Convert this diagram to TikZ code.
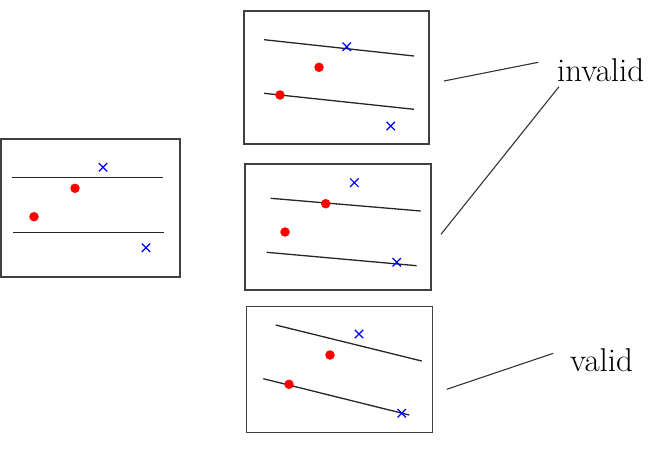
\documentclass[tikz,border=0pt]{standalone}
\begin{document}
\begin{tikzpicture}[x=1pt,y=-1pt,
  panel/.style={draw=black!75,line width=1.1pt},
  sep/.style={draw=black!85,line width=1.3pt},
  link/.style={draw=black!80,line width=1.1pt},
  posdot/.style={circle,fill=red,inner sep=0pt,minimum size=9.5pt},
  negmark/.style={blue,line width=1.2pt},
  lab/.style={font=\fontsize{33}{40}\selectfont,inner sep=0pt,anchor=base west}]
\useasboundingbox (0,0) rectangle (663,449);
\tikzset{pic cross/.pic={\draw[negmark] (-4.2,-4.2)--(4.2,4.2) (-4.2,4.2)--(4.2,-4.2);}}
% panel A (left)
\draw[panel] (1,139) rectangle (180,277);
\draw[sep] (12,177.7) -- (163,177.7);
\draw[sep] (13,232.7) -- (164,232.7);
\node[posdot] (a1) at (75,188.3) {};
\node[posdot] (a2) at (34,216.7) {};
\pic at (103,167.3) {pic cross};
\pic at (146,247.7) {pic cross};
% panel B (top)
\draw[panel] (244,11) rectangle (429,144);
\draw[sep] (264,39.7) -- (414,56);
\draw[sep] (264,93.3) -- (414,109.3);
\node[posdot] (b1) at (319,67.3) {};
\node[posdot] (b2) at (280,95) {};
\pic at (346.7,46.7) {pic cross};
\pic at (390.7,126) {pic cross};
% panel C (middle)
\draw[panel] (245,164) rectangle (431,290);
\draw[sep] (270.7,198.3) -- (420.7,211);
\draw[sep] (266.7,252.3) -- (416.7,265.7);
\node[posdot] (c1) at (325.7,203.7) {};
\node[posdot] (c2) at (285,232) {};
\pic at (354.3,182.7) {pic cross};
\pic at (396.7,262.3) {pic cross};
% panel D (bottom)
\draw[panel] (246.7,306.7) rectangle (432.7,432.7);
\draw[sep] (275.7,325) -- (421.7,361);
\draw[sep] (263.3,378.7) -- (409.3,415);
\node[posdot] (d1) at (330,355) {};
\node[posdot] (d2) at (289,384.3) {};
\pic at (359,334) {pic cross};
\pic at (401.7,413.3) {pic cross};
% labels
\node[lab] (inv) at (557,82) {invalid};
\node[lab] (val) at (570,371.5) {valid};
\coordinate (l1a) at (444,81);
\coordinate (l1b) at (538.3,62.3);
\coordinate (l2a) at (441,234.3);
\coordinate (l2b) at (559,86.7);
\coordinate (l3a) at (446.7,389.3);
\coordinate (l3b) at (553.3,353.3);
\draw[link] (l1a) -- (l1b);
\draw[link] (l2a) -- (l2b);
\draw[link] (l3a) -- (l3b);
\end{tikzpicture}
\end{document}
